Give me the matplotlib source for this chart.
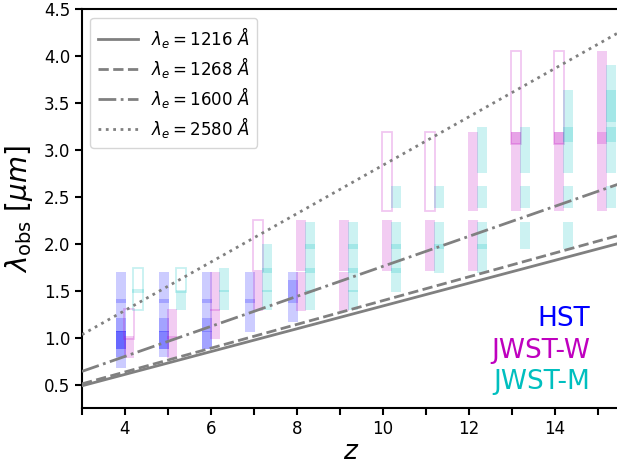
import matplotlib
matplotlib.use("Agg")
import matplotlib.pyplot as plt
from matplotlib.ticker import MultipleLocator

# Rest-frame wavelengths (Angstrom) and their line styles
lam_rest = [1216, 1268, 1600, 2580]
lam_styles = ["-", "--", "-.", ":"]

# Filter passbands, observed frame (micron)
H814 = (0.673, 1.07)
H850 = (0.796, 1.07)
H098 = (0.875, 1.07)
H105 = (0.875, 1.206)
H125 = (1.065, 1.411)
H140 = (1.17, 1.614)
H160 = (1.372, 1.696)

W090 = (0.779, 1.016)
W115 = (0.981, 1.302)
W150 = (1.285, 1.696)
W200 = (1.713, 2.254)
W277 = (2.353, 3.195)
W356 = (3.061, 4.059)
W277_356 = (3.061, 3.195)

M140 = (1.294, 1.507)
M162 = (1.489, 1.739)
M182 = (1.686, 1.998)
M210 = (1.945, 2.236)
M250 = (2.378, 2.616)
M300 = (2.758, 3.242)
M335 = (3.088, 3.640)
M360 = (3.302, 3.906)

# Filters used at each redshift: filled = used, outline = partially used
hst_z = [4, 5, 6, 7, 8]
hst_filled = [
    [H814, H850, H098, H105, H125, H160],
    [H850, H098, H105, H125, H160],
    [H098, H105, H125, H160],
    [H125, H160],
    [H140, H160],
]

jw_z = [4, 5, 6, 7, 8, 9, 10, 11, 12, 13, 14, 15]
jw_filled = [
    [W090], [W090, W115], [W115, W150], [W150], [W150, W200], [W150, W200],
    [W200], [W200], [W200, W277], [W277, W277_356], [W277, W277_356],
    [W277, W356],
]
jw_outline = [
    [W115], [], [], [W200], [], [], [W277], [W277], [], [W356], [W356], [],
]

jm_z = [4, 5, 6, 7, 8, 9, 10, 11, 12, 13, 14, 15]
jm_filled = [
    [], [M140], [M140, M162], [M140, M162, M182],
    [M140, M162, M182, M210], [M140, M162, M182, M210],
    [M162, M182, M210, M250], [M182, M210, M250],
    [M182, M210, M250, M300], [M210, M250, M300],
    [M210, M250, M300, M335], [M250, M300, M335, M360],
]
jm_outline = [
    [M140, M162], [M162], [], [], [], [], [], [], [], [], [], [],
]

labels = ["HST", "JWST-W", "JWST-M"]
colors = ["b", "m", "c"]
offsets = [-0.1, 0.1, 0.3]
bar_w = 0.24

fig = plt.figure(figsize=(6.17, 4.66), dpi=100)
ax = fig.add_axes([0.1329, 0.1245, 0.8711, 0.8556])


def draw_bands(zs, filled, outline, color, dz):
    for i, z in enumerate(zs):
        for lo, hi in filled[i]:
            ax.bar(z + dz, hi - lo, bottom=lo, width=bar_w, color=color,
                   alpha=0.2, linewidth=0, zorder=1)
        if outline is None:
            continue
        for lo, hi in outline[i]:
            ax.bar(z + dz, hi - lo, bottom=lo, width=bar_w, fill=False,
                   edgecolor=color, alpha=0.22, linewidth=1.3, zorder=1)


draw_bands(hst_z, hst_filled, None, colors[0], offsets[0])
draw_bands(jw_z, jw_filled, jw_outline, colors[1], offsets[1])
draw_bands(jm_z, jm_filled, jm_outline, colors[2], offsets[2])

zgrid = [3.0, 15.5]
for lam, ls in zip(lam_rest, lam_styles):
    ax.plot(zgrid, [lam * 1e-4 * (1 + z) for z in zgrid], color="0.5",
            linestyle=ls, linewidth=2,
            label=r"$\lambda_e = %d\ \AA$" % lam, zorder=3)

ax.set_xlim(3, 15.5)
ax.set_ylim(0.25, 4.5)
ax.xaxis.set_major_locator(MultipleLocator(2))
ax.xaxis.set_minor_locator(MultipleLocator(1))
ax.yaxis.set_major_locator(MultipleLocator(0.5))
ax.tick_params(which="both", direction="out", length=5, width=1.5,
               labelsize=12)
for sp in ax.spines.values():
    sp.set_linewidth(1.5)

ax.set_xlabel(r"$z$", fontsize=19, labelpad=1)
ax.set_ylabel(r"$\lambda_{\rm obs}\ [\mu m]$", fontsize=20, labelpad=6)

ax.legend(loc="upper left", fontsize=12, handlelength=2.4,
          labelspacing=0.3, borderpad=0.45)

for k, (lab, col) in enumerate(zip(labels, colors)):
    ax.text(0.945, 0.222 - 0.079 * k, lab, color=col, fontsize=19,
            ha="right", va="center", transform=ax.transAxes)

fig.savefig("out.png", dpi=100)
